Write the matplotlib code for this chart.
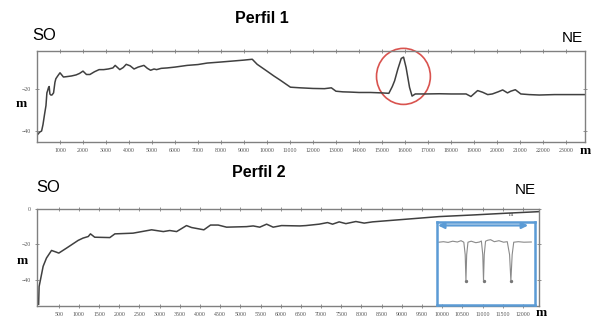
import matplotlib
matplotlib.use("Agg")
import matplotlib.pyplot as plt
from matplotlib.patches import Ellipse

# Perfil 1: distance (m) and depth (m)
dist1 = [0, 120, 200, 260, 330, 390, 430, 460, 500, 530, 560, 600, 650, 720, 780, 820, 900,
         1000, 1150, 1300, 1500, 1700, 1850, 2000, 2150, 2300, 2500, 2700, 2900, 3100, 3300,
         3400, 3600, 3750, 3880, 4050, 4220, 4400, 4650, 4800, 4940, 5090, 5200, 5400, 5660,
         6000, 6530, 7000, 7400, 8000, 8560, 9000, 9360, 9575, 10000, 10300, 10580, 11020,
         11450, 12000, 12500, 12800, 13000, 13300, 13600, 14000, 14500, 15000, 15300, 15450,
         15550, 15690, 15840, 15940, 16050, 16200, 16310, 16450, 16900, 17500, 18000, 18660,
         18870, 19160, 19380, 19600, 19800, 20050, 20250, 20460, 20600, 20800, 21040, 21400,
         21840, 22500, 23000, 23830]
depth1 = [-42, -40.5, -40, -37, -32, -28, -22, -21, -19.5, -19, -22.5, -23, -23, -22, -17, -15.3, -14,
          -12.5, -14.5, -14.3, -14, -13.5, -12.8, -11.7, -13.3, -13.3, -12, -11, -11, -10.7, -10.2,
          -9, -11, -10, -8.5, -9.2, -10.7, -9.8, -9, -10.4, -11.3, -10.7, -11, -10.4, -10.2,
          -9.8, -9, -8.6, -7.9, -7.4, -6.9, -6.5, -6.1, -8.5, -11.7, -14, -16, -19.3,
          -19.6, -19.9, -20, -19.6, -21.2, -21.5, -21.6, -21.8, -21.8, -22, -22.2, -19,
          -16.3, -10.8, -5.7, -5.1, -10, -19.4, -23.5, -22.5, -22.5, -22.4, -22.5, -22.5,
          -23.7, -20.9, -21.7, -22.8, -22.5, -21.5, -20.6, -22, -21.2, -20.5, -22.5, -22.8,
          -23, -22.8, -22.8, -22.8]

# Perfil 2
dist2 = [0, 12, 47, 112, 195, 320, 443, 500, 690, 980, 1100, 1230, 1285, 1390, 1765, 1890, 2340,
         2800, 3090, 3250, 3420, 3665, 3790, 4095, 4260, 4450, 4657, 5150, 5317, 5480, 5650,
         5812, 6020, 6474, 6622, 6952, 7160, 7284, 7448, 7614, 7862, 8068, 8275, 9100, 9926,
         10753, 11580, 12400]
depth2 = [-54, -44, -40, -32.5, -27.8, -23.5, -24.5, -25, -22.2, -17.8, -16.5, -15.6, -14.1, -16,
          -16.2, -14.1, -13.7, -11.8, -12.8, -12.2, -12.8, -9.4, -10.5, -11.8, -9.1, -9.1, -10.3,
          -10, -9.6, -10.3, -8.6, -10.3, -9.4, -9.6, -9.4, -8.6, -7.7, -8.6, -7.3, -8.3, -7.1,
          -8, -7.3, -5.8, -4.3, -3.4, -2.4, -1.5]

ticks1 = list(range(1000, 24000, 1000))
ticks2 = list(range(500, 12500, 500))

# zoomed detail in the blue box (relative units)
ins_x = [0, 5, 10, 15, 20, 24, 27, 28.5, 29.3, 30.1, 31.5, 35, 40, 44, 46, 47.5, 48.3, 49.1,
         50.5, 53, 56, 60, 65, 70, 74, 76.5, 77.9, 79.3, 81, 86, 92, 100]
ins_y = [-20.5, -20, -20.7, -19.5, -20.3, -19, -20.5, -33, -59, -33, -20.5, -19.5, -21, -20.3,
         -19.3, -33, -59, -33, -19.5, -18.5, -18, -20, -19, -20.5, -20, -33, -59, -33, -20.5,
         -20, -20.5, -20.3]

W, H = 612, 328
fig = plt.figure(figsize=(W / 100, H / 100), dpi=100)
fig.patch.set_facecolor("white")

line_c = "#404040"
spine_c = "#808080"
blue = "#5b9bd5"


def style_axes(ax, xticks):
    for s in ax.spines.values():
        s.set_color(spine_c)
        s.set_linewidth(1.0)
    ax.set_xticks(xticks)
    ax.tick_params(axis="both", direction="inout", length=3, width=0.6, color=spine_c,
                   labelsize=4.2, labelcolor="#555555", pad=3,
                   top=True, right=True, labelright=False, labeltop=False)
    for lab in ax.get_xticklabels() + ax.get_yticklabels():
        lab.set_family("Liberation Serif")


def fx(px):
    return px / W


def fy(py):
    return 1 - py / H


# ---- Perfil 1 ----
ax1 = fig.add_axes([fx(37), fy(142), fx(585 - 37), (142 - 51) / H])
ax1.plot(dist1, depth1, color=line_c, lw=1.1)
ax1.set_xlim(0, 23830)
ax1.set_ylim(-45.2, -2.2)
ax1.set_yticks([-40, -20])
style_axes(ax1, ticks1)
circ = Ellipse((15935, -14.2), 2 * 27 / 0.02305, 2 * 28 / 2.115, fill=False,
               edgecolor="#d9534f", lw=1.2, clip_on=False)
ax1.add_patch(circ)

# ---- Perfil 2 ----
ax2 = fig.add_axes([fx(37), fy(306), fx(539 - 37), (306 - 209) / H])
ax2.plot(dist2, depth2, color=line_c, lw=1.1)
ax2.set_xlim(-40, 12400)
ax2.set_ylim(-55, 0)
ax2.set_yticks([-40, -20, 0])
style_axes(ax2, ticks2)
ax2.text(11700, -3.2, "m", fontsize=4, family="Liberation Serif", color="#444444",
         ha="center", va="center")

# blue detail box
axi = fig.add_axes([fx(437), fy(305), fx(535 - 437), (305 - 221.7) / H])
axi.patch.set_alpha(0)
axi.plot(ins_x, ins_y, color="#8a8a8a", lw=0.8)
axi.scatter([29.3, 48.3, 77.9], [-59, -59, -59], s=2, color="#777777")
axi.set_xlim(-2, 104)
axi.set_ylim(-83.3, 0)
axi.set_xticks([])
axi.set_yticks([])
for s in axi.spines.values():
    s.set_color(blue)
    s.set_linewidth(1.8)
axi.annotate("", xy=(0.01, 0.955), xytext=(0.93, 0.955), xycoords="axes fraction",
             arrowprops=dict(arrowstyle="<|-|>", color=blue, lw=1.6,
                             mutation_scale=9, shrinkA=0, shrinkB=0))

# ---- texts ----
fig.text(fx(262), fy(18.5), "Perfil 1", ha="center", va="center", fontsize=11.5,
         fontweight="bold", family="Liberation Sans")
fig.text(fx(259), fy(172.5), "Perfil 2", ha="center", va="center", fontsize=11.5,
         fontweight="bold", family="Liberation Sans")
fig.text(fx(44), fy(36), "SO", ha="center", va="center", fontsize=12, family="Liberation Sans")
fig.text(fx(48), fy(187.5), "SO", ha="center", va="center", fontsize=12, family="Liberation Sans")
fig.text(fx(572), fy(38.5), "NE", ha="center", va="center", fontsize=11, family="Liberation Sans")
fig.text(fx(525), fy(190.5), "NE", ha="center", va="center", fontsize=11, family="Liberation Sans")
for (x, y) in [(21, 104), (22, 261.5), (585, 151), (541, 313)]:
    fig.text(fx(x), fy(y), "m", ha="center", va="center", fontsize=9.5,
             fontweight="bold", family="Liberation Serif")

fig.savefig("out.png", dpi=100)
